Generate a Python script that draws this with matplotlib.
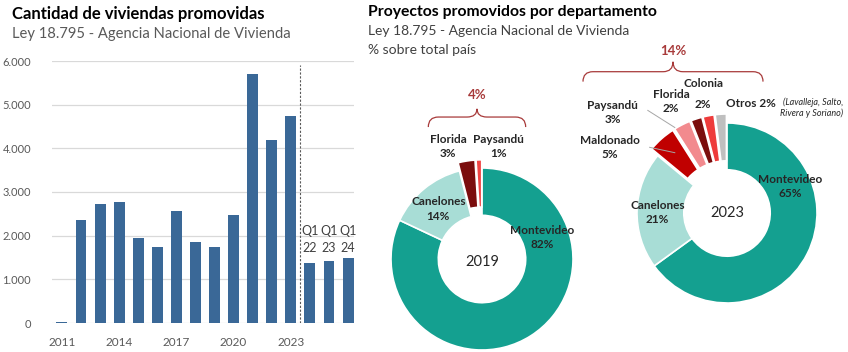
import matplotlib.pyplot as plt
from matplotlib.path import Path
from matplotlib.patches import PathPatch

plt.rcParams['font.family'] = ['Lato', 'DejaVu Sans']

# ---- data ----
bar_labels = ['2011', '2012', '2013', '2014', '2015', '2016', '2017', '2018',
              '2019', '2020', '2021', '2022', '2023', 'Q1 22', 'Q1 23', 'Q1 24']
bar_values = [30, 2350, 2720, 2780, 1950, 1750, 2560, 1860,
              1730, 2470, 5700, 4200, 4750, 1370, 1420, 1500]
year_ticks = ['2011', '2014', '2017', '2020', '2023']

dept_2019 = ['Montevideo', 'Canelones', 'Florida', 'Paysandú']
share_2019 = [82, 14, 3, 1]
dept_2023 = ['Montevideo', 'Canelones', 'Maldonado', 'Paysandú', 'Florida', 'Colonia', 'Otros']
share_2023 = [65, 21, 5, 3, 2, 2, 2]

W, H = 848, 352
BLUE = '#3A6897'
TEAL = '#14A090'
LTEAL = '#A8DDD6'
BRACE = '#A83A3A'
GRAY_TXT = '#595959'

fig = plt.figure(figsize=(W / 100, H / 100), dpi=100)

# ---- titles ----
fig.text(12 / W, 1 - 14 / H, 'Cantidad de viviendas promovidas', fontsize=12,
         fontweight='bold', va='center', ha='left', color='black')
fig.text(12 / W, 1 - 34 / H, 'Ley 18.795 - Agencia Nacional de Vivienda', fontsize=10.6,
         va='center', ha='left', color=GRAY_TXT)
fig.text(368 / W, 1 - 12 / H, 'Proyectos promovidos por departamento', fontsize=11.3,
         fontweight='bold', va='center', ha='left', color='black')
fig.text(368 / W, 1 - 31 / H, 'Ley 18.795 - Agencia Nacional de Vivienda', fontsize=10,
         va='center', ha='left', color='#404040')
fig.text(368 / W, 1 - 50 / H, '% sobre total país', fontsize=10,
         va='center', ha='left', color='#404040')

# ---- bar chart ----
ax = fig.add_axes([52 / W, (H - 323) / H, 302 / W, 262 / H])
x = list(range(len(bar_values)))
ax.bar(x, bar_values, width=0.57, color=BLUE, zorder=3)
ax.set_ylim(0, 6000)
ax.set_xlim(-0.52, 15.31)
ax.set_yticks(range(0, 6001, 1000))
ax.set_yticklabels(['0' if v == 0 else f'{v // 1000}.000' for v in range(0, 6001, 1000)])
ax.set_xticks([bar_labels.index(t) for t in year_ticks])
ax.set_xticklabels(year_ticks)
ax.tick_params(length=0, labelcolor=GRAY_TXT)
ax.tick_params(axis='y', pad=15, labelsize=8)
ax.tick_params(axis='x', pad=10, labelsize=8.5)
ax.grid(axis='y', color='#D9D9D9', linewidth=0.9, zorder=0)
for s in ax.spines.values():
    s.set_visible(False)
ax.axvline(12.5, ymin=0, ymax=0.985, color='#595959', linestyle=(0, (2, 1.5)),
           linewidth=0.8, zorder=4)
for i, lab in enumerate(bar_labels):
    if lab.startswith('Q1'):
        ax.text(i, 1910, 'Q1\n' + lab.split()[1], ha='center', va='center',
                fontsize=9, color='#404040', linespacing=1.45, zorder=5)


# ---- donuts ----
def donut_axes(cx, cy, r, span=2.0):
    a = fig.add_axes([(cx - span * r) / W, (H - cy - span * r) / H,
                      2 * span * r / W, 2 * span * r / H])
    a.axis('off')
    return a


def fix_limits(a, span=2.0):
    a.set_xlim(-span, span)
    a.set_ylim(-span, span)


def brace(a, x0, x1, yb, yt, ytip):
    xm = (x0 + x1) / 2
    d = (yt - yb)
    verts = [(x0, yb), (x0, yt), (x0 + d, yt),
             (xm - d, yt), (xm, yt), (xm, ytip),
             (xm, yt), (xm + d, yt),
             (x1 - d, yt), (x1, yt), (x1, yb)]
    codes = [Path.MOVETO, Path.CURVE3, Path.CURVE3,
             Path.LINETO, Path.CURVE3, Path.CURVE3,
             Path.CURVE3, Path.CURVE3,
             Path.LINETO, Path.CURVE3, Path.CURVE3]
    a.add_patch(PathPatch(Path(verts, codes), fill=False, edgecolor=BRACE, linewidth=0.9))


lab_kw = dict(fontsize=8.5, fontweight='bold', color='#262626', ha='center', va='center',
              linespacing=1.35)

# 2019
a1 = donut_axes(482, 259, 91)
a1.pie(share_2019, colors=[TEAL, LTEAL, '#7B0D0D', '#F04545'], startangle=90,
       counterclock=False, explode=[0, 0, 0.09, 0.09],
       wedgeprops=dict(width=0.52, edgecolor='white', linewidth=1.2))
fix_limits(a1)
a1.text(0, -0.03, '2019', fontsize=10.5, ha='center', va='center', color='#262626')
a1.text(0.66, 0.24, f'{dept_2019[0]}\n{share_2019[0]}%', **lab_kw)
a1.text(-0.48, 0.55, f'{dept_2019[1]}\n{share_2019[1]}%', **lab_kw)
a1.text(-0.37, 1.24, f'{dept_2019[2]}\n{share_2019[2]}%', **lab_kw)
a1.text(0.18, 1.24, f'{dept_2019[3]}\n{share_2019[3]}%', **lab_kw)
brace(a1, -0.59, 0.48, 1.45, 1.56, 1.65)
a1.text(-0.055, 1.80, f'{sum(share_2019[2:])}%', fontsize=9.5, fontweight='bold',
        color=BRACE, ha='center', va='center')

# 2023
a2 = donut_axes(727, 213, 90)
a2.pie(share_2023, colors=[TEAL, LTEAL, '#C00000', '#F28A8E', '#7B0D0D', '#EE3B3B', '#BFBFBF'],
       startangle=90, counterclock=False, explode=[0, 0, 0.1, 0.1, 0.1, 0.1, 0.1],
       wedgeprops=dict(width=0.52, edgecolor='white', linewidth=1.2))
fix_limits(a2)
a2.text(0, 0, '2023', fontsize=10.5, ha='center', va='center', color='#262626')
a2.text(0.70, 0.29, f'{dept_2023[0]}\n{share_2023[0]}%', **lab_kw)
a2.text(-0.77, 0.01, f'{dept_2023[1]}\n{share_2023[1]}%', **lab_kw)
a2.text(-1.30, 0.73, f'{dept_2023[2]}\n{share_2023[2]}%', **lab_kw)
a2.plot([-0.86, -0.58], [0.73, 0.67], color='#A6A6A6', linewidth=0.7)
a2.text(-1.27, 1.12, f'{dept_2023[3]}\n{share_2023[3]}%', **lab_kw)
a2.plot([-0.88, -0.58], [1.14, 0.95], color='#A6A6A6', linewidth=0.7)
a2.text(-0.62, 1.24, f'{dept_2023[4]}\n{share_2023[4]}%', **lab_kw)
a2.text(-0.26, 1.44, dept_2023[5], **lab_kw)
a2.text(-0.27, 1.20, f'{share_2023[5]}%', **lab_kw)
a2.text(-0.01, 1.22, f'{dept_2023[6]} {share_2023[6]}%', **dict(lab_kw, ha='left'))
a2.text(1.29, 1.17, '(Lavalleja, Salto,\nRivera y Soriano)', fontsize=6.5, style='italic',
        color='#262626', ha='right', va='center', linespacing=1.3)
brace(a2, -1.60, 0.40, 1.46, 1.57, 1.68)
a2.text(-0.60, 1.80, f'{sum(share_2023[2:])}%', fontsize=9.5, fontweight='bold',
        color=BRACE, ha='center', va='center')

fig.savefig('out.png', dpi=100)
